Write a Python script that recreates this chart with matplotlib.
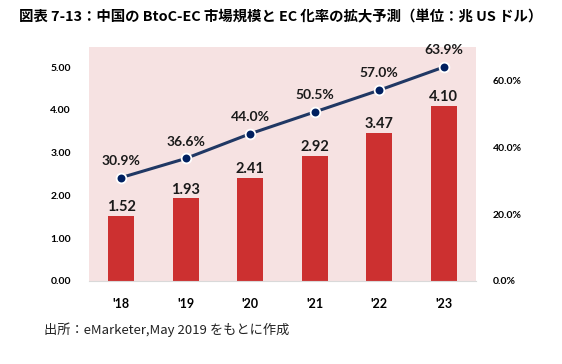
import matplotlib.pyplot as plt
import numpy as np

plt.rcParams['font.family'] = ['Lato', 'Noto Sans CJK JP', 'DejaVu Sans']

# datos
anios = ["'18", "'19", "'20", "'21", "'22", "'23"]
mercado = [1.52, 1.93, 2.41, 2.92, 3.47, 4.10]  # trillones USD
ec_ratio = [30.9, 36.6, 44.0, 50.5, 57.0, 63.9]  # %
ticks_izq = [0, 1, 2, 3, 4, 5]
ticks_der = [0, 20, 40, 60]

titulo = '図表 7-13：中国の BtoC-EC 市場規模と EC 化率の拡大予測（単位：兆 US ドル）'
fuente = '出所：eMarketer,May 2019 をもとに作成'

fig = plt.figure(figsize=(5.62, 3.64), dpi=100)
ax = fig.add_axes([89/562, 1-281/364, 387/562, 234/364])
ax.set_facecolor('#F6E2E2')

x = np.arange(len(anios))
ax.bar(x, mercado, width=0.4, color='#CC3030', zorder=2)
for xi, v in zip(x, mercado):
    ax.text(xi, v + 0.04, f'{v:.2f}', ha='center', va='bottom', fontsize=10.5,
            fontweight='bold', color='#1a1a1a', zorder=4)

ax.set_xlim(-0.5, 5.5)
ax.set_ylim(0, 5.47)
ax.set_yticks(ticks_izq)
ax.set_yticklabels([f'{t:.2f}' for t in ticks_izq], fontsize=7.5, fontweight='bold')
ax.set_xticks(x)
ax.set_xticklabels(anios, fontsize=9, fontweight='bold')
ax.tick_params(axis='both', length=0)
ax.tick_params(axis='y', pad=13)
ax.tick_params(axis='x', pad=12)
for s in ['top', 'right', 'left']:
    ax.spines[s].set_visible(False)
ax.spines['bottom'].set_color('#d9d9d9')

# eje derecho con el EC ratio
ax2 = ax.twinx()
ax2.plot(x, ec_ratio, color='#203864', lw=2.2, marker='o', markersize=7,
         markerfacecolor='#002060', markeredgecolor='white', markeredgewidth=1.3, zorder=3)
for xi, v in zip(x, ec_ratio):
    ax2.text(xi, v + 3.2, f'{v:.1f}%', ha='center', va='bottom', fontsize=10,
             fontweight='bold', color='#1a1a1a')
ax2.set_ylim(0, 69.9)
ax2.set_yticks(ticks_der)
ax2.set_yticklabels([f'{t:.1f}%' for t in ticks_der], fontsize=7.5, fontweight='bold')
ax2.tick_params(axis='y', length=0, pad=12)
for s in ax2.spines.values():
    s.set_visible(False)

fig.text(0.5, 1-17/364, titulo, ha='center', va='center', fontsize=10.4,
         fontweight='bold', family=['Noto Sans CJK JP', 'DejaVu Sans'])
fig.text(44/562, 1-330/364, fuente, ha='left', va='center', fontsize=9.5,
         family=['Noto Sans CJK JP', 'DejaVu Sans'], color='#222222')

fig.savefig('out.png', dpi=100)
